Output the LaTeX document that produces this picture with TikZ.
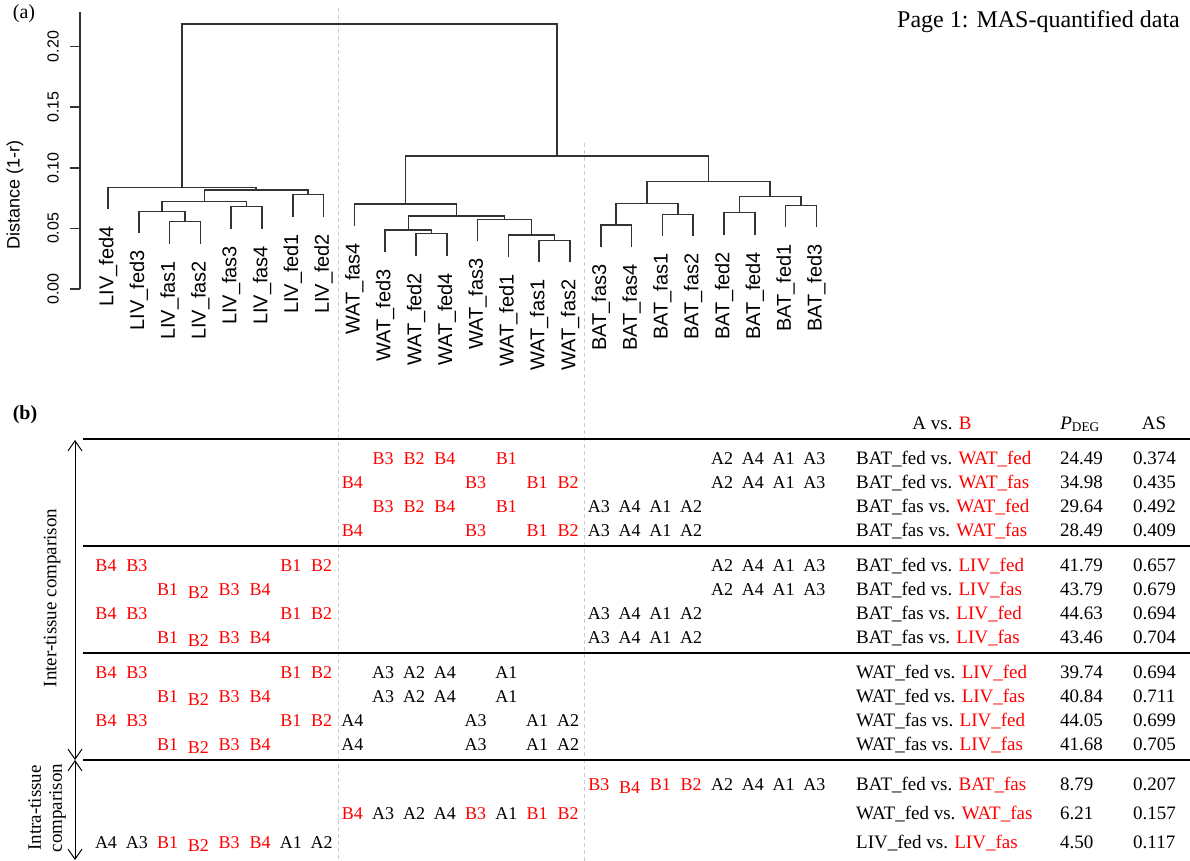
\documentclass[tikz,border=0pt]{standalone}
\usepackage{fontspec}
\setmainfont{Liberation Serif}
\setsansfont{Liberation Sans}
\usetikzlibrary{arrows.meta,calc}

% join two children of the tree at a given height
\newcommand{\mergeat}[4]{%
  \coordinate (tmp) at ($(#2)!.5!(#3)$);
  \coordinate (#1) at (tmp |- 0,#4);
  \draw[dendro] (#2) |- (#1) -| (#3);}

\begin{document}
\begin{tikzpicture}[
  x=1pt, y=-1pt,
  dendro/.style={line width=1.5pt, black!80},
  leaflab/.style={rotate=90, anchor=east, inner sep=0pt, font=\sffamily\fontsize{20}{22}\selectfont},
  ticklab/.style={rotate=90, inner sep=0pt, font=\sffamily\fontsize{16}{18}\selectfont},
  cell/.style={anchor=base, inner sep=0pt, xshift=-2pt, font=\fontsize{18}{20}\selectfont},
  bcell/.style={cell, text=red},
  pair/.style={anchor=base west, inner sep=0pt, font=\fontsize{19}{21}\selectfont},
  head/.style={anchor=base, inner sep=0pt, font=\fontsize{19}{21}\selectfont},
  rule/.style={line width=1.5pt},
  guide/.style={gray!40, line width=0.8pt, dash pattern=on 4pt off 3pt},
  side/.style={rotate=90, align=center, inner sep=0pt, font=\fontsize{19}{21}\selectfont},
  span/.style={arrows={Straight Barb[length=10pt,width=14pt]-Straight Barb[length=10pt,width=14pt]}, line width=1pt},
]
  \useasboundingbox (0,0) rectangle (1190,861);
  \fill[white] (0,0) rectangle (1190,861);

  % grey guides between tissues
  \draw[guide] (338,8) -- (338,861);
  \draw[guide] (584,143) -- (584,861);

  % Panel (a)
  \node[font=\fontsize{20}{22}\selectfont] (labA) at (24,14) {(a)};
  \node[anchor=base east, inner sep=0pt, font=\fontsize{24}{28}\selectfont] (title) at (1180,28) {Page 1: MAS-quantified data};

  % axis
  \draw[dendro] (80,289) -- (80,12);
  \foreach \d [count=\k] in {0.00,0.05,0.10,0.15,0.20}{
    \pgfmathsetmacro\ty{289-\d*1212}
    \draw[dendro] (80,\ty) -- (70,\ty);
    \node[ticklab] (tick\k) at (53,\ty) {\d};
  }
  \node[ticklab, font=\sffamily\fontsize{18}{20}\selectfont] (ylab) at (15,195) {Distance (1-r)};

  % leaves
  \foreach \t/\c/\yb [count=\i from 0] in {LIV/fed4/209.3, LIV/fed3/233.3, LIV/fas1/243.7, LIV/fas2/243.7,
      LIV/fas3/228.7, LIV/fas4/228.7, LIV/fed1/216.7, LIV/fed2/216.7,
      WAT/fas4/226, WAT/fed3/252, WAT/fed2/255.7, WAT/fed4/255.7,
      WAT/fas3/241.3, WAT/fed1/257, WAT/fas1/262.3, WAT/fas2/262.3,
      BAT/fas3/247, BAT/fas4/247, BAT/fas1/236.3, BAT/fas2/236.3,
      BAT/fed2/234.7, BAT/fed4/234.7, BAT/fed1/227.3, BAT/fed3/227.3}{
    \coordinate (\t\c) at ({108+30.8*\i},\yb);
    \node[leaflab] (\t\c lab) at ({108+30.8*\i},\yb+17) {\t\_\c};
  }

  % LIV branch
  \mergeat{LIVa}{LIVfas1}{LIVfas2}{221.7}
  \mergeat{LIVb}{LIVfed3}{LIVa}{211.3}
  \mergeat{LIVc}{LIVfas3}{LIVfas4}{206.7}
  \mergeat{LIVd}{LIVb}{LIVc}{201.3}
  \mergeat{LIVe}{LIVfed1}{LIVfed2}{194.7}
  \mergeat{LIVf}{LIVd}{LIVe}{190}
  \mergeat{LIV}{LIVfed4}{LIVf}{187.3}
  % WAT branch
  \mergeat{WATa}{WATfed2}{WATfed4}{233.7}
  \mergeat{WATb}{WATfed3}{WATa}{230}
  \mergeat{WATc}{WATfas1}{WATfas2}{240.3}
  \mergeat{WATd}{WATfed1}{WATc}{235}
  \mergeat{WATe}{WATfas3}{WATd}{219.3}
  \mergeat{WATf}{WATb}{WATe}{216}
  \mergeat{WAT}{WATfas4}{WATf}{204}
  % BAT branch
  \mergeat{BATa}{BATfas3}{BATfas4}{225}
  \mergeat{BATb}{BATfas1}{BATfas2}{214.3}
  \mergeat{BATc}{BATa}{BATb}{203.7}
  \mergeat{BATd}{BATfed2}{BATfed4}{212.7}
  \mergeat{BATe}{BATfed1}{BATfed3}{205.3}
  \mergeat{BATf}{BATd}{BATe}{196.3}
  \mergeat{BAT}{BATc}{BATf}{181.7}
  % top
  \mergeat{WB}{WAT}{BAT}{156}
  \mergeat{root}{LIV}{WB}{24}

  % Panel (b)
  \node[font=\bfseries\fontsize{20}{22}\selectfont] (labB) at (25,415) {(b)};
  \foreach \i in {0,...,23} \coordinate (c\i) at ({108+30.8*\i},0);
  \foreach \r/\y in {1/464,2/488,3/512,4/536,5/571,6/595,7/619,8/643,
      9/678,10/702,11/726,12/750,13/790,14/819,15/848}
    \coordinate (r\r) at (0,\y);
  \coordinate (txt) at (856,0);
  \coordinate (pcol) at (1060,0);
  \coordinate (ascol) at (1133,0);

  \node[head] (hpair) at (942,429) {A vs. \textcolor{red}{B}};
  \node[head] (hpdeg) at (1080,429) {\textit{P}\textsubscript{DEG}};
  \node[head] (has) at (1154,429) {AS};
  \foreach \y in {439,546,653,760} \draw[rule] (83,\y) -- (1190,\y);

  % group A samples
  \foreach \r in {1,2,5,6,13}
    \foreach \c/\t in {20/A2,21/A4,22/A1,23/A3} \node[cell] (r\r-\c) at (c\c |- r\r) {\t};
  \foreach \r in {3,4,7,8}
    \foreach \c/\t in {16/A3,17/A4,18/A1,19/A2} \node[cell] (r\r-\c) at (c\c |- r\r) {\t};
  \foreach \r in {9,10,14}
    \foreach \c/\t in {9/A3,10/A2,11/A4,13/A1} \node[cell] (r\r-\c) at (c\c |- r\r) {\t};
  \foreach \r in {11,12}
    \foreach \c/\t in {8/A4,12/A3,14/A1,15/A2} \node[cell] (r\r-\c) at (c\c |- r\r) {\t};
  \foreach \c/\t in {0/A4,1/A3,6/A1,7/A2} \node[cell] (r15-\c) at (c\c |- r15) {\t};

  % group B samples
  \foreach \r in {1,3}
    \foreach \c/\t in {9/B3,10/B2,11/B4,13/B1} \node[bcell] (r\r-\c) at (c\c |- r\r) {\t};
  \foreach \r in {2,4,14}
    \foreach \c/\t in {8/B4,12/B3,14/B1,15/B2} \node[bcell] (r\r-\c) at (c\c |- r\r) {\t};
  \foreach \r in {5,7,9,11}
    \foreach \c/\t in {0/B4,1/B3,6/B1,7/B2} \node[bcell] (r\r-\c) at (c\c |- r\r) {\t};
  \foreach \r in {6,8,10,12,15}
    \foreach \c/\t/\s in {2/B1/0,3/B2/3,4/B3/0,5/B4/0} \node[bcell, yshift=-\s pt] (r\r-\c) at (c\c |- r\r) {\t};
  \foreach \c/\t/\s in {16/B3/0,17/B4/3,18/B1/0,19/B2/0} \node[bcell, yshift=-\s pt] (r13-\c) at (c\c |- r13) {\t};

  % comparisons
  \foreach \r/\ta/\tb/\pv/\av in {1/BAT\_fed/WAT\_fed/24.49/0.374, 2/BAT\_fed/WAT\_fas/34.98/0.435,
      3/BAT\_fas/WAT\_fed/29.64/0.492, 4/BAT\_fas/WAT\_fas/28.49/0.409,
      5/BAT\_fed/LIV\_fed/41.79/0.657, 6/BAT\_fed/LIV\_fas/43.79/0.679,
      7/BAT\_fas/LIV\_fed/44.63/0.694, 8/BAT\_fas/LIV\_fas/43.46/0.704,
      9/WAT\_fed/LIV\_fed/39.74/0.694, 10/WAT\_fed/LIV\_fas/40.84/0.711,
      11/WAT\_fas/LIV\_fed/44.05/0.699, 12/WAT\_fas/LIV\_fas/41.68/0.705,
      13/BAT\_fed/BAT\_fas/8.79/0.207, 14/WAT\_fed/WAT\_fas/6.21/0.157,
      15/LIV\_fed/LIV\_fas/4.50/0.117}{
    \node[pair] (pair\r) at (txt |- r\r) {\ta{} vs. \textcolor{red}{\tb}};
    \node[pair] (pdeg\r) at (pcol |- r\r) {\pv};
    \node[pair] (as\r) at (ascol |- r\r) {\av};
  }

  % side arrows
  \coordinate (intertop) at (75,440);
  \coordinate (split) at (75,760);
  \coordinate (intrabot) at (75,860);
  \draw[span] (intertop) -- (split);
  \draw[span] (split) -- (intrabot);
  \node[side] (inter) at (52,598) {Inter-tissue comparison};
  \node[side] (intra) at (47,808) {Intra-tissue\\comparison};
\end{tikzpicture}
\end{document}
